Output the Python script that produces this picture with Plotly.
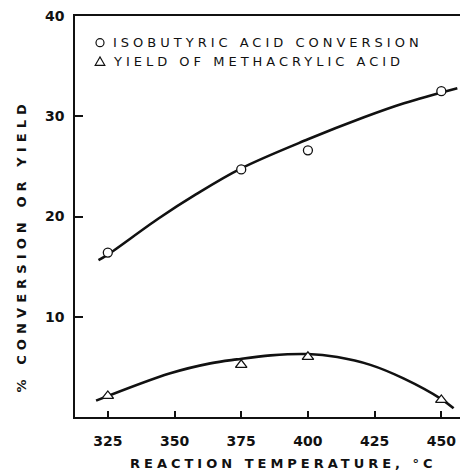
import plotly.graph_objects as go

# Measured data points
temps = [325, 375, 400, 450]
conversion = [16.4, 24.7, 26.6, 32.5]
yield_ma = [2.1, 5.2, 6.0, 1.7]

# Points
curve_x_conv = [321.5, 325, 344, 358, 375, 400, 421, 436, 456]
curve_conv = [15.65, 16.2, 19.8, 22.2, 24.8, 27.7, 29.9, 31.3, 32.8]
curve_x_yield = [320.6, 348.4, 363.4, 373.4, 386, 400, 411, 423.4, 435.8, 450, 454.6]
curve_yield = [1.63, 4.36, 5.35, 5.75, 6.15, 6.28, 5.98, 5.2, 3.85, 1.79, 0.87]

x_ticks = [325, 350, 375, 400, 425, 450]
y_ticks = [10, 20, 30, 40]

legend_names = ["ISOBUTYRIC ACID CONVERSION", "YIELD OF METHACRYLIC ACID"]
x_title = "REACTION TEMPERATURE, °C"
y_title = "% CONVERSION OR YIELD"

INK = "#111111"
FONT = "DejaVu Sans"

fig = go.Figure()
fig.add_trace(go.Scatter(x=curve_x_conv, y=curve_conv, mode="lines",
                         line=dict(color=INK, width=2.6, shape="spline", smoothing=1.0),
                         showlegend=False, hoverinfo="skip"))
fig.add_trace(go.Scatter(x=curve_x_yield, y=curve_yield, mode="lines",
                         line=dict(color=INK, width=2.6, shape="spline", smoothing=1.0),
                         showlegend=False, hoverinfo="skip"))
fig.add_trace(go.Scatter(x=temps, y=conversion, mode="markers", name=legend_names[0],
                         showlegend=False,
                         marker=dict(symbol="circle", size=9, color="white",
                                     line=dict(color=INK, width=1.3))))
fig.add_trace(go.Scatter(x=temps, y=yield_ma, mode="markers", name=legend_names[1],
                         showlegend=False,
                         marker=dict(symbol="triangle-up", size=10, color="white",
                                     line=dict(color=INK, width=1.3))))

L, R, T, B = 75, 6, 16, 54
W, H = 466, 471
pw, ph = W - L - R, H - T - B

def px_x(p):
    return (p - L) / pw

def px_y(p):
    return (H - B - p) / ph

# legend keys (open circle and open triangle) drawn in paper space
cx, cy1, cy2 = 100, 42.7, 61.5
shapes = [
    dict(type="circle", xref="paper", yref="paper",
         x0=px_x(cx - 4), x1=px_x(cx + 4), y0=px_y(cy1 + 4), y1=px_y(cy1 - 4),
         line=dict(color=INK, width=1.2), fillcolor="white"),
    dict(type="path", xref="paper", yref="paper",
         path="M {:.5f} {:.5f} L {:.5f} {:.5f} L {:.5f} {:.5f} Z".format(
             px_x(cx - 4.8), px_y(cy2 + 3.8), px_x(cx + 4.8), px_y(cy2 + 3.8),
             px_x(cx), px_y(cy2 - 4.6)),
         line=dict(color=INK, width=1.2), fillcolor="white"),
]

fig.update_layout(
    width=W, height=H,
    margin=dict(l=L, r=R, t=T, b=B),
    paper_bgcolor="white", plot_bgcolor="white",
    font=dict(family=FONT, color=INK, size=14),
    showlegend=False,
    shapes=shapes,
    xaxis=dict(range=[312.7, 457], tickvals=x_ticks, ticks="inside", ticklen=6,
               tickwidth=1.5, tickcolor=INK, showline=True, linecolor=INK,
               linewidth=1.6, mirror=True, showgrid=False, zeroline=False,
               tickfont=dict(family=FONT, size=14, color=INK, weight="bold"),
               ticklabelstandoff=10),
    yaxis=dict(range=[0, 40], tickvals=y_ticks, ticks="inside", ticklen=8,
               tickwidth=1.5, tickcolor=INK, showline=True, linecolor=INK,
               linewidth=1.6, showgrid=False, zeroline=False,
               tickfont=dict(family=FONT, size=14, color=INK, weight="bold"),
               ticklabelstandoff=6),
    annotations=[
        dict(text=x_title, xref="paper", yref="paper", x=px_x(283), y=px_y(464),
             xanchor="center", yanchor="middle", showarrow=False,
             font=dict(family=FONT, size=13, color=INK, weight="bold")),
        dict(text=y_title, xref="paper", yref="paper", x=px_x(21), y=px_y(246),
             xanchor="center", yanchor="middle", showarrow=False, textangle=-90,
             font=dict(family=FONT, size=13, color=INK, weight="bold")),
        dict(text=legend_names[0], xref="paper", yref="paper", x=px_x(111), y=px_y(cy1),
             xanchor="left", yanchor="middle", align="left", showarrow=False,
             font=dict(family=FONT, size=13, color=INK)),
        dict(text=legend_names[1], xref="paper", yref="paper", x=px_x(111), y=px_y(cy2),
             xanchor="left", yanchor="middle", align="left", showarrow=False,
             font=dict(family=FONT, size=13, color=INK)),
    ],
)

post = """
var st = document.createElement('style');
st.innerHTML = '.annotation[data-index="0"] .annotation-text{letter-spacing:4.0px;}'
 + '.annotation[data-index="1"] .annotation-text{letter-spacing:5.1px;}'
 + '.annotation[data-index="2"] .annotation-text, .annotation[data-index="3"] .annotation-text{letter-spacing:4.0px;}';
document.head.appendChild(st);
"""
fig.write_html("out.html", post_script=post)
